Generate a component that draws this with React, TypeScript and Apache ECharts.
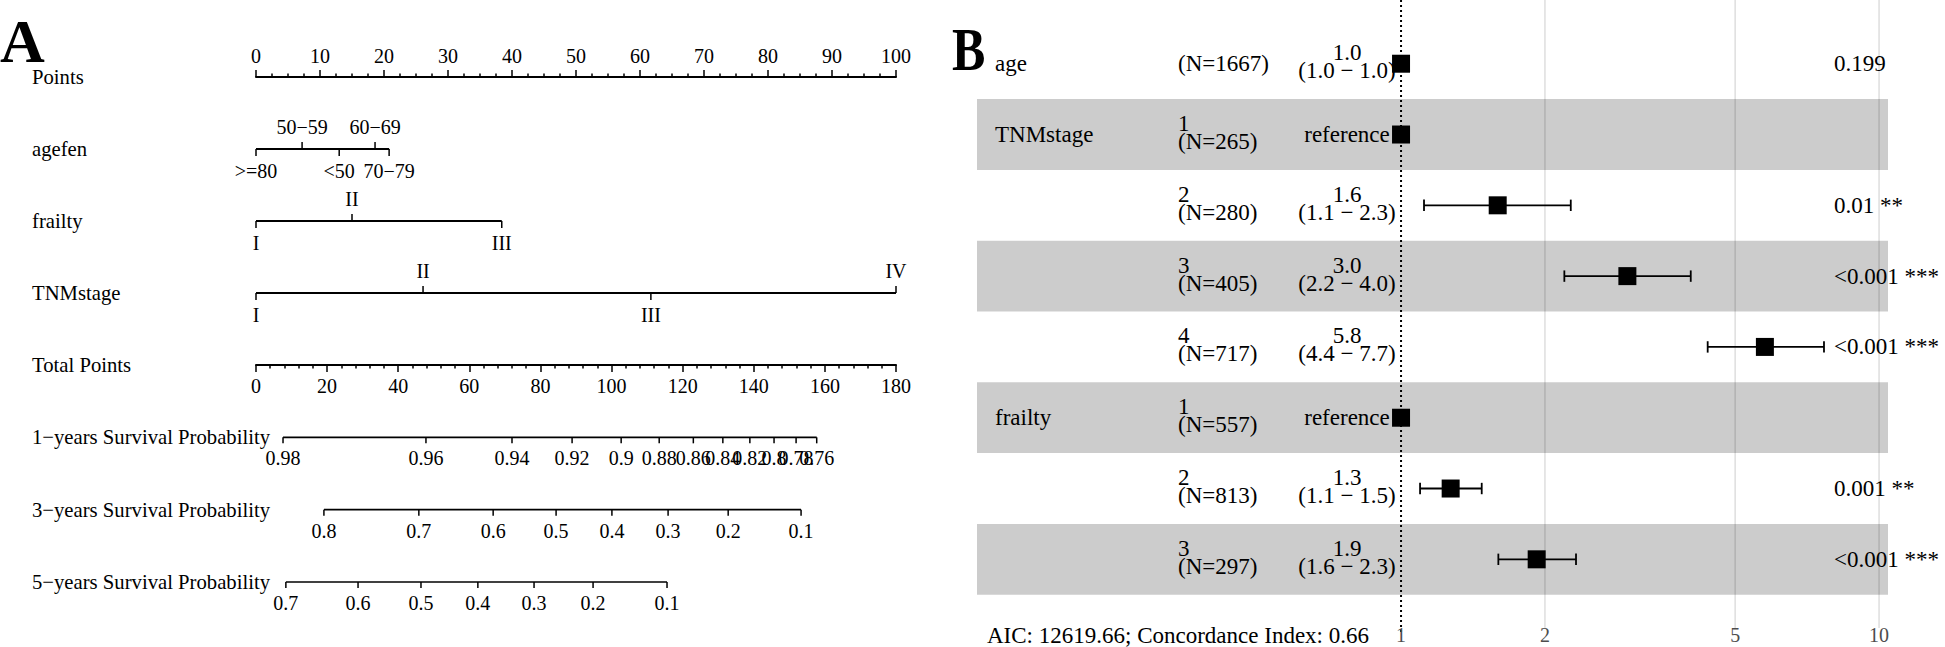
import React, { useEffect, useRef } from "react";
import * as echarts from "echarts";

const FONT = '"Liberation Serif", "Times New Roman", Times, serif';

// ---------------- Panel A: nomogram data ----------------
const pointsTicks = [0, 10, 20, 30, 40, 50, 60, 70, 80, 90, 100];
const totalPointsTicks = [0, 20, 40, 60, 80, 100, 120, 140, 160, 180];

const predictorRowNames = ["Points", "agefen", "frailty", "TNMstage"];
const outcomeRowNames = [
  "Total Points",
  "1\u2212years Survival Probability",
  "3\u2212years Survival Probability",
  "5\u2212years Survival Probability",
];

const agefenLevels = [">=80", "50\u221259", "<50", "60\u221269", "70\u221279"];
const agefenPoints = [0, 7.2, 13.0, 18.6, 20.8];
const agefenLabelSide = ["below", "above", "below", "above", "below"];

const frailtyLevels = ["I", "II", "III"];
const frailtyPoints = [0, 15.0, 38.4];
const frailtyLabelSide = ["below", "above", "below"];

const tnmLevels = ["I", "II", "III", "IV"];
const tnmPoints = [0, 26.1, 61.7, 100];
const tnmLabelSide = ["below", "above", "below", "above"];

const surv1Labels = ["0.98", "0.96", "0.94", "0.92", "0.9", "0.88", "0.86", "0.84", "0.82", "0.8", "0.78", "0.76"];
const surv1TotalPoints = [7.6, 47.8, 72.0, 88.9, 102.7, 113.4, 123.0, 131.3, 138.9, 145.7, 151.9, 157.7];

const surv3Labels = ["0.8", "0.7", "0.6", "0.5", "0.4", "0.3", "0.2", "0.1"];
const surv3TotalPoints = [19.1, 45.8, 66.7, 84.4, 100.1, 115.9, 132.8, 153.3];

const surv5Labels = ["0.7", "0.6", "0.5", "0.4", "0.3", "0.2", "0.1"];
const surv5TotalPoints = [8.4, 28.7, 46.4, 62.4, 78.2, 94.8, 115.6];

// ---------------- Panel B: forest plot data ----------------
const forestVars = ["age", "TNMstage", "", "", "", "frailty", "", ""];
const forestLevels = ["", "1", "2", "3", "4", "1", "2", "3"];
const forestN = [1667, 265, 280, 405, 717, 557, 813, 297];
const forestHR = [1.0, 1.0, 1.593, 2.975, 5.77, 1.0, 1.27, 1.922];
const forestLower: (number | null)[] = [1.0, null, 1.117, 2.196, 4.38, null, 1.096, 1.598];
const forestUpper: (number | null)[] = [1.0, null, 2.265, 4.037, 7.67, null, 1.475, 2.323];
const forestIsRef = [false, true, false, false, false, true, false, false];
const forestP = ["0.199", "", "0.01 **", "<0.001 ***", "<0.001 ***", "", "0.001 **", "<0.001 ***"];
const forestTicks = [1, 2, 5, 10];
const modelStats = "AIC: 12619.66; Concordance Index: 0.66";

// ---------------- option building ----------------
function buildOption(): any {
  const predictorScales = [
    { row: 1, levels: agefenLevels, points: agefenPoints, side: agefenLabelSide },
    { row: 2, levels: frailtyLevels, points: frailtyPoints, side: frailtyLabelSide },
    { row: 3, levels: tnmLevels, points: tnmPoints, side: tnmLabelSide },
  ];
  const outcomeScales = [
    { row: 1, labels: surv1Labels, total: surv1TotalPoints },
    { row: 2, labels: surv3Labels, total: surv3TotalPoints },
    { row: 3, labels: surv5Labels, total: surv5TotalPoints },
  ];

  const a1TickData: number[][] = [];
  const a1TickLabels: string[] = [];
  predictorScales.forEach((s) =>
    s.points.forEach((p, i) => {
      a1TickData.push([p, s.row, s.side[i] === "above" ? 1 : -1]);
      a1TickLabels.push(s.levels[i]);
    })
  );
  const a1LineData = predictorScales.map((s) => [Math.min(...s.points), Math.max(...s.points), s.row]);

  const a2TickData: number[][] = [];
  const a2TickLabels: string[] = [];
  outcomeScales.forEach((s) =>
    s.total.forEach((t, i) => {
      a2TickData.push([t, s.row, -1]);
      a2TickLabels.push(s.labels[i]);
    })
  );
  const a2LineData = outcomeScales.map((s) => [Math.min(...s.total), Math.max(...s.total), s.row]);

  const tickRenderer = (labels: string[], tickLen: number, gap: number, lw: number) => (params: any, api: any) => {
    const p = api.coord([api.value(0), api.value(1)]);
    const side = api.value(2);
    return {
      type: "group",
      children: [
        {
          type: "line",
          shape: { x1: p[0], y1: p[1], x2: p[0], y2: p[1] - side * tickLen },
          style: { stroke: "#000", lineWidth: lw },
        },
        {
          type: "text",
          x: p[0],
          y: p[1] - side * gap,
          style: {
            text: labels[params.dataIndex],
            x: 0,
            y: 0,
            align: "center",
            verticalAlign: "middle",
            fontFamily: FONT,
            fontSize: 20,
            fill: "#000",
          },
        },
      ],
    };
  };

  const lineRenderer = (lw: number) => (params: any, api: any) => {
    const a = api.coord([api.value(0), api.value(2)]);
    const b = api.coord([api.value(1), api.value(2)]);
    return {
      type: "line",
      shape: { x1: a[0], y1: a[1], x2: b[0], y2: b[1] },
      style: { stroke: "#000", lineWidth: lw },
    };
  };

  const rowLabelRenderer = (names: string[]) => (params: any, api: any) => {
    const p = api.coord([0, api.value(1)]);
    return {
      type: "text",
      x: 32,
      y: p[1],
      style: {
        text: names[params.dataIndex],
        x: 0,
        y: 0,
        align: "left",
        verticalAlign: "middle",
        fontFamily: FONT,
        fontSize: 20.7,
        fill: "#000",
      },
    };
  };

  const bText = (x: number, y: number, text: string, align: string, size = 23, color = "#000") => ({
    type: "text",
    x,
    y,
    style: {
      text,
      x: 0,
      y: 0,
      align,
      verticalAlign: "middle",
      fontFamily: FONT,
      fontSize: size,
      lineHeight: 18,
      fill: color,
    },
  });

  const axisCommon = {
    axisLine: { show: true, onZero: false, lineStyle: { color: "#000", width: 2 } },
    splitLine: { show: false },
    minorSplitLine: { show: false },
  };

  const forestRows = forestN.map((_, i) => i);

  return {
    animation: false,
    backgroundColor: "#fff",
    grid: [
      { left: 256, top: 77, width: 640, height: 216 },
      { left: 256, top: 365, width: 640, height: 217 },
      { left: 977, top: 0, width: 911, height: 628 },
    ],
    xAxis: [
      {
        gridIndex: 0,
        type: "value",
        position: "top",
        min: pointsTicks[0],
        max: pointsTicks[pointsTicks.length - 1],
        interval: pointsTicks[1] - pointsTicks[0],
        ...axisCommon,
        axisTick: { show: true, length: 7, lineStyle: { color: "#000", width: 1.5 } },
        minorTick: { show: true, splitNumber: 4, length: 3.5, lineStyle: { color: "#000", width: 1.5 } },
        axisLabel: { show: true, margin: 11, color: "#000", fontFamily: FONT, fontSize: 20 },
      },
      {
        gridIndex: 1,
        type: "value",
        position: "top",
        min: totalPointsTicks[0],
        max: totalPointsTicks[totalPointsTicks.length - 1],
        interval: totalPointsTicks[1] - totalPointsTicks[0],
        ...axisCommon,
        axisTick: { show: true, inside: true, length: 7, lineStyle: { color: "#000", width: 1.5 } },
        minorTick: { show: true, splitNumber: 5, length: 3.5, lineStyle: { color: "#000", width: 1.5 } },
        axisLabel: { show: true, inside: true, margin: 11, color: "#000", fontFamily: FONT, fontSize: 20 },
      },
      {
        gridIndex: 2,
        type: "log",
        logBase: 10,
        min: 0.1297,
        max: 10.44,
        show: false,
      },
    ],
    yAxis: [
      { gridIndex: 0, type: "value", min: 0, max: 3, inverse: true, show: false },
      { gridIndex: 1, type: "value", min: 0, max: 3, inverse: true, show: false },
      { gridIndex: 2, type: "value", min: -0.9, max: 7.97, inverse: true, show: false },
    ],
    graphic: [
      {
        type: "text",
        x: 0,
        y: 41,
        style: { text: "A", x: 0, y: 0, align: "left", verticalAlign: "middle", fontFamily: FONT, fontWeight: "bold", fontSize: 62, fill: "#000" },
      },
      {
        type: "text",
        x: 952,
        y: 49.5,
        scaleY: 1.24,
        style: { text: "B", x: 0, y: 0, align: "left", verticalAlign: "middle", fontFamily: FONT, fontWeight: "bold", fontSize: 50, fill: "#000" },
      },
      {
        type: "text",
        x: 987,
        y: 635,
        style: { text: modelStats, x: 0, y: 0, align: "left", verticalAlign: "middle", fontFamily: FONT, fontSize: 23, fill: "#000" },
      },
    ],
    series: [
      // ---- Panel A ----
      {
        type: "custom",
        name: "predictorLabels",
        xAxisIndex: 0,
        yAxisIndex: 0,
        silent: true,
        data: predictorRowNames.map((_, i) => [0, i]),
        renderItem: rowLabelRenderer(predictorRowNames),
      },
      {
        type: "custom",
        name: "predictorLines",
        xAxisIndex: 0,
        yAxisIndex: 0,
        silent: true,
        encode: { x: [0, 1], y: 2 },
        data: a1LineData,
        renderItem: lineRenderer(2),
      },
      {
        type: "custom",
        name: "predictorTicks",
        xAxisIndex: 0,
        yAxisIndex: 0,
        silent: true,
        encode: { x: 0, y: 1 },
        data: a1TickData,
        renderItem: tickRenderer(a1TickLabels, 7, 22, 1.5),
      },
      {
        type: "custom",
        name: "outcomeLabels",
        xAxisIndex: 1,
        yAxisIndex: 1,
        silent: true,
        data: outcomeRowNames.map((_, i) => [0, i]),
        renderItem: rowLabelRenderer(outcomeRowNames),
      },
      {
        type: "custom",
        name: "outcomeLines",
        xAxisIndex: 1,
        yAxisIndex: 1,
        silent: true,
        encode: { x: [0, 1], y: 2 },
        data: a2LineData,
        renderItem: lineRenderer(1.6),
      },
      {
        type: "custom",
        name: "outcomeTicks",
        xAxisIndex: 1,
        yAxisIndex: 1,
        silent: true,
        encode: { x: 0, y: 1 },
        data: a2TickData,
        renderItem: tickRenderer(a2TickLabels, 6, 21, 1.5),
      },
      // ---- Panel B ----
      {
        type: "custom",
        name: "gridLines",
        xAxisIndex: 2,
        yAxisIndex: 2,
        silent: true,
        z: 1,
        data: forestTicks.filter((v) => v !== 1).map((v) => [v, 0]),
        renderItem: (params: any, api: any) => {
          const x = api.coord([api.value(0), 0])[0];
          const cs = params.coordSys;
          return {
            type: "line",
            shape: { x1: x, y1: cs.y, x2: x, y2: cs.y + cs.height },
            style: { stroke: "#dedede", lineWidth: 1.5 },
          };
        },
      },
      {
        type: "custom",
        name: "bands",
        xAxisIndex: 2,
        yAxisIndex: 2,
        silent: true,
        z: 2,
        data: forestRows.filter((i) => i % 2 === 1).map((i) => [1, i]),
        renderItem: (params: any, api: any) => {
          const r = api.value(1);
          const y0 = api.coord([1, r - 0.5])[1];
          const y1 = api.coord([1, r + 0.5])[1];
          const cs = params.coordSys;
          return {
            type: "rect",
            shape: { x: cs.x, y: y0, width: cs.width, height: y1 - y0 },
            style: { fill: "rgba(0,0,0,0.2)" },
          };
        },
      },
      {
        type: "custom",
        name: "nullLine",
        xAxisIndex: 2,
        yAxisIndex: 2,
        silent: true,
        z: 3,
        data: [[1, 0]],
        renderItem: (params: any, api: any) => {
          const x = api.coord([api.value(0), 0])[0];
          const cs = params.coordSys;
          return {
            type: "line",
            shape: { x1: x, y1: cs.y, x2: x, y2: cs.y + cs.height + 4 },
            style: { stroke: "#000", lineWidth: 2, lineDash: [2, 3] },
          };
        },
      },
      {
        type: "custom",
        name: "errorBars",
        xAxisIndex: 2,
        yAxisIndex: 2,
        silent: true,
        z: 4,
        encode: { x: [0, 1], y: 2 },
        data: forestRows.filter((i) => forestLower[i] !== null).map((i) => [forestLower[i], forestUpper[i], i]),
        renderItem: (params: any, api: any) => {
          const a = api.coord([api.value(0), api.value(2)]);
          const b = api.coord([api.value(1), api.value(2)]);
          const h = 5.7;
          const st = { stroke: "#000", lineWidth: 1.8 };
          return {
            type: "group",
            children: [
              { type: "line", shape: { x1: a[0], y1: a[1], x2: b[0], y2: b[1] }, style: st },
              { type: "line", shape: { x1: a[0], y1: a[1] - h, x2: a[0], y2: a[1] + h }, style: st },
              { type: "line", shape: { x1: b[0], y1: b[1] - h, x2: b[0], y2: b[1] + h }, style: st },
            ],
          };
        },
      },
      {
        type: "scatter",
        name: "hazardRatio",
        xAxisIndex: 2,
        yAxisIndex: 2,
        silent: true,
        z: 5,
        symbol: "rect",
        symbolSize: 18,
        itemStyle: { color: "#000", opacity: 1 },
        data: forestHR.map((h, i) => [h, i]),
      },
      {
        type: "custom",
        name: "table",
        xAxisIndex: 2,
        yAxisIndex: 2,
        silent: true,
        z: 6,
        data: forestRows.map((i) => [1, i]),
        renderItem: (params: any, api: any) => {
          const i = params.dataIndex;
          const y = api.coord([1, api.value(1)])[1];
          const children: any[] = [];
          if (forestVars[i]) children.push(bText(995, y, forestVars[i], "left"));
          const nText = forestLevels[i] ? `${forestLevels[i]}\n(N=${forestN[i]})` : `(N=${forestN[i]})`;
          children.push(bText(1178, forestLevels[i] ? y - 2 : y, nText, "left"));
          const lo = forestLower[i];
          const hi = forestUpper[i];
          const estText = forestIsRef[i]
            ? "reference"
            : `${forestHR[i].toFixed(1)}\n(${(lo as number).toFixed(1)} \u2212 ${(hi as number).toFixed(1)})`;
          children.push(bText(1347, forestIsRef[i] ? y : y - 2, estText, "center"));
          if (forestP[i]) children.push(bText(1834, y, forestP[i], "left"));
          return { type: "group", children };
        },
      },
      {
        type: "custom",
        name: "hrAxisLabels",
        xAxisIndex: 2,
        yAxisIndex: 2,
        silent: true,
        z: 6,
        data: forestTicks.map((v) => [v, 0]),
        renderItem: (params: any, api: any) => {
          const x = api.coord([api.value(0), 0])[0];
          const cs = params.coordSys;
          return bText(x, cs.y + cs.height + 7, String(forestTicks[params.dataIndex]), "center", 20, "#4d4d4d");
        },
      },
    ],
  };
}

export default function App() {
  const ref = useRef<HTMLDivElement>(null);
  useEffect(() => {
    if (!ref.current) return;
    const chart = echarts.init(ref.current, undefined, { renderer: "svg" });
    chart.setOption(buildOption());
    return () => chart.dispose();
  }, []);
  return (
    <div
      ref={ref}
      style={{ position: "fixed", left: 0, top: 0, width: 1945, height: 647, background: "#fff", overflow: "hidden" }}
    />
  );
}
